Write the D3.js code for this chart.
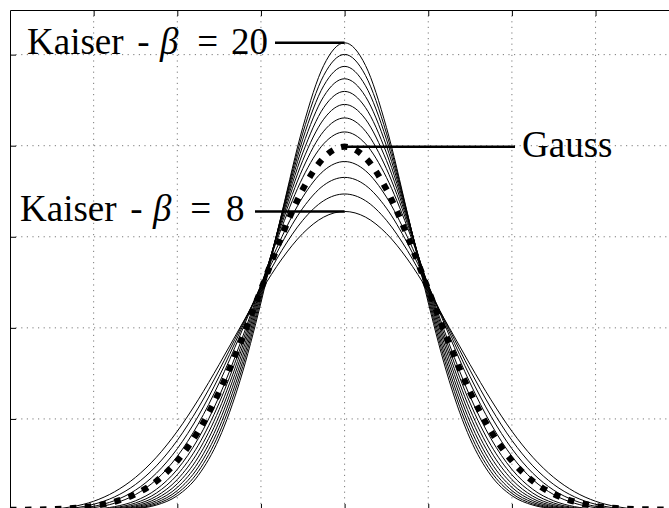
<!DOCTYPE html>
<html><head><meta charset="utf-8"><script src="https://cdn.jsdelivr.net/npm/d3@7"></script>
<style>body{margin:0;background:#fff;overflow:hidden} svg{display:block}</style></head>
<body>
<script>
// x positions of samples (x in units of the gridline spacing)
const kaiserX = [-3.5,-3.25,-3,-2.75,-2.5,-2.25,-2,-1.75,-1.5,-1.25,-1,-0.75,-0.5,-0.25,0,0.25,0.5,0.75,1,1.25,1.5,1.75,2,2.25,2.5,2.75,3,3.25,3.5];
const gaussX = [-4,-3.75,-3.5,-3.25,-3,-2.75,-2.5,-2.25,-2,-1.75,-1.5,-1.25,-1,-0.75,-0.5,-0.25,0,0.25,0.5,0.75,1,1.25,1.5,1.75,2,2.25,2.5,2.75,3,3.25,3.5,3.75,4];
// curve values, in units of 1e-4
const betas = [8,9,10,11,13,14,15,16,17,18,19,20];
const kaiser8  = [8,37,96,200,358,579,865,1210,1597,2004,2401,2756,3036,3216,3278,3216,3036,2756,2401,2004,1597,1210,865,579,358,200,96,37,8];
const kaiser9  = [3,20,63,144,280,485,765,1120,1535,1986,2438,2850,3181,3396,3470,3396,3181,2850,2438,1986,1535,1120,765,485,280,144,63,20,3];
const kaiser10 = [1,11,40,103,218,404,673,1030,1466,1956,2461,2931,3314,3565,3652,3565,3314,2931,2461,1956,1466,1030,673,404,218,103,40,11,1];
const kaiser11 = [1,6,26,74,169,334,589,944,1394,1918,2472,2999,3436,3725,3826,3725,3436,2999,2472,1918,1394,944,589,334,169,74,26,6,1];
const kaiser13 = [0,2,11,37,101,227,446,783,1247,1824,2468,3106,3652,4021,4151,4021,3652,3106,2468,1824,1247,783,446,227,101,37,11,2,0];
const kaiser14 = [0,1,7,26,77,186,387,710,1174,1770,2454,3147,3748,4159,4305,4159,3748,3147,2454,1770,1174,710,387,186,77,26,7,1,0];
const kaiser15 = [0,1,4,19,59,152,334,642,1103,1714,2435,3181,3838,4291,4453,4291,3838,3181,2435,1714,1103,642,334,152,59,19,4,1,0];
const kaiser16 = [0,0,3,13,45,125,288,580,1034,1657,2411,3208,3921,4418,4596,4418,3921,3208,2411,1657,1034,580,288,125,45,13,3,0,0];
const kaiser17 = [0,0,2,9,35,102,248,522,967,1598,2382,3229,3999,4540,4735,4540,3999,3229,2382,1598,967,522,248,102,35,9,2,0,0];
const kaiser18 = [0,0,1,6,26,83,213,470,903,1538,2350,3245,4071,4658,4871,4658,4071,3245,2350,1538,903,470,213,83,26,6,1,0,0];
const kaiser19 = [0,0,1,5,20,67,183,422,842,1479,2315,3256,4138,4771,5002,4771,4138,3256,2315,1479,842,422,183,67,20,5,1,0,0];
const kaiser20 = [0,0,0,3,15,54,157,379,784,1420,2277,3262,4201,4881,5130,4881,4201,3262,2277,1420,784,379,157,54,15,3,0,0,0];
const gauss    = [1,4,9,20,44,91,175,317,540,863,1295,1826,2420,3011,3521,3867,3989,3867,3521,3011,2420,1826,1295,863,540,317,175,91,44,20,9,4,1];
const xTicks = [-3,-2,-1,0,1,2,3];
const yTicks = [1000,2000,3000,4000,5000];
const xDomain = [-4,4];
const yDomain = [0,5490];

const kaiserSeries = [kaiser8,kaiser9,kaiser10,kaiser11,kaiser13,kaiser14,kaiser15,kaiser16,kaiser17,kaiser18,kaiser19,kaiser20];

const W = 669, H = 508;
const x = d3.scaleLinear().domain(xDomain).range([10, 679.2]);
const y = d3.scaleLinear().domain(yDomain).range([510, 10]);

const svg = d3.select("body").append("svg").attr("width", W).attr("height", H);

// grid
const grid = svg.append("g").attr("stroke", "#7a7a7a").attr("stroke-width", 1).attr("stroke-dasharray", "1.2,4.4");
grid.selectAll(".gx").data(xTicks).join("line")
  .attr("x1", d => x(d)).attr("x2", d => x(d)).attr("y1", y(yDomain[1])).attr("y2", y(0));
grid.selectAll(".gy").data(yTicks).join("line")
  .attr("y1", d => y(d)).attr("y2", d => y(d)).attr("x1", x(xDomain[0])).attr("x2", x(xDomain[1]));

// curves
const line = d3.line().curve(d3.curveMonotoneX);
svg.append("g").selectAll("path").data(kaiserSeries).join("path")
  .attr("d", vals => line(vals.map((v, i) => [x(kaiserX[i]), y(v)])))
  .attr("fill", "none").attr("stroke", "#000").attr("stroke-width", 1);

svg.append("path")
  .attr("d", line(gauss.map((v, i) => [x(gaussX[i]), y(v)])))
  .attr("fill", "none").attr("stroke", "#000").attr("stroke-width", 6.2)
  .attr("stroke-dasharray", "6.5,8.5").attr("stroke-linecap", "butt");

// axes (ticks inward, no labels)
function styleAxis(g){ g.selectAll("path").attr("stroke","#000").attr("stroke-width",1); g.selectAll("line").attr("stroke","#000").attr("stroke-width",1); g.selectAll("text").remove(); }
svg.append("g").attr("transform", `translate(0,${y(yDomain[1])})`)
  .call(d3.axisTop(x).tickValues(xTicks).tickSizeInner(-6).tickSizeOuter(0).tickFormat("")).call(styleAxis);
svg.append("g").attr("transform", `translate(0,${y(0)})`)
  .call(d3.axisBottom(x).tickValues(xTicks).tickSizeInner(-6).tickSizeOuter(0).tickFormat("")).call(styleAxis);
svg.append("g").attr("transform", `translate(${x(xDomain[0])},0)`)
  .call(d3.axisLeft(y).tickValues(yTicks).tickSizeInner(-6).tickSizeOuter(0).tickFormat("")).call(styleAxis);
svg.append("g").attr("transform", `translate(${x(xDomain[1])},0)`)
  .call(d3.axisRight(y).tickValues(yTicks).tickSizeInner(-6).tickSizeOuter(0).tickFormat("")).call(styleAxis);

// annotations
const ann = svg.append("g").attr("stroke", "#000").attr("stroke-width", 2.6);
ann.append("line").attr("x1", 275).attr("x2", x(0)).attr("y1", y(kaiser20[14])).attr("y2", y(kaiser20[14]));
ann.append("line").attr("x1", 255).attr("x2", x(0)).attr("y1", y(kaiser8[14])).attr("y2", y(kaiser8[14]));
ann.append("line").attr("x1", x(0)).attr("x2", 515).attr("y1", y(gauss[16])).attr("y2", y(gauss[16]));

const font = "'Liberation Serif','Times New Roman',serif";
function label(xs, baseline, last){
  const t = svg.append("text").attr("y", baseline).attr("font-family", font).attr("font-size", 37).attr("fill", "#000");
  t.append("tspan").attr("x", xs[0]).text("Kaiser");
  t.append("tspan").attr("x", xs[1]).text(" - ");
  t.append("tspan").attr("x", xs[2]).attr("font-style", "italic").text("β");
  t.append("tspan").attr("x", xs[3]).text(" = ");
  t.append("tspan").attr("x", xs[4]).text(last);
}
label([27, 128, 160, 188, 231], 53.5, "20");
label([20, 121, 153, 181, 226], 221, "8");
svg.append("text").attr("x", 522).attr("y", 157).attr("font-family", font).attr("font-size", 37).attr("fill", "#000").text("Gauss");
</script></body></html>
